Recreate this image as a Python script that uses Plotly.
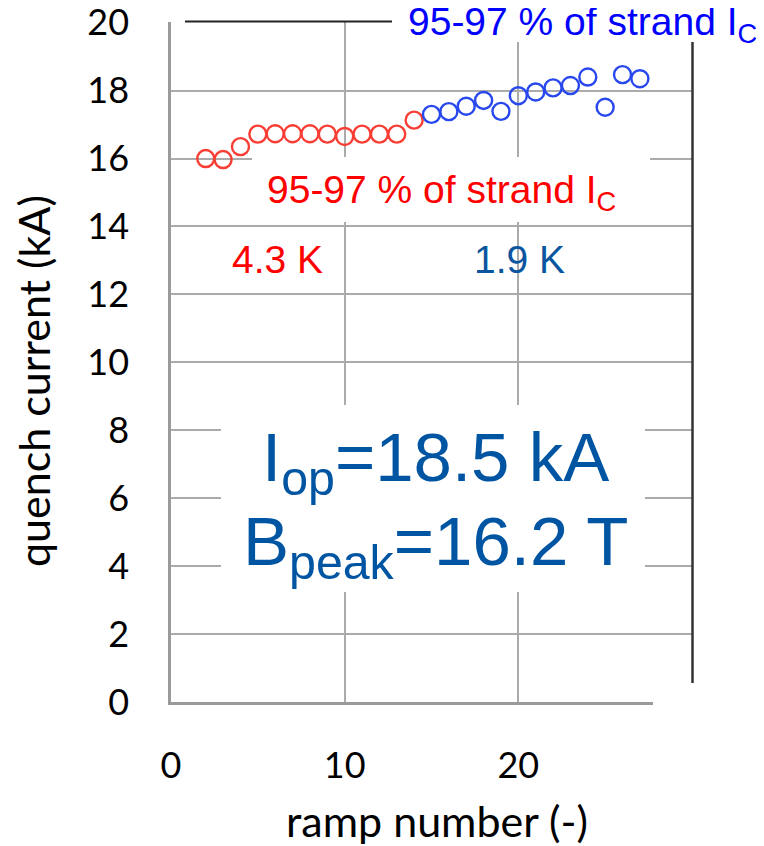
import plotly.graph_objects as go

# ---- data ----
ramp_43K = [2, 3, 4, 5, 6, 7, 8, 9, 10, 11, 12, 13, 14]
iq_43K = [16.0, 15.97, 16.35, 16.72, 16.73, 16.73, 16.73, 16.72, 16.65, 16.72, 16.72, 16.72, 17.13]
ramp_19K = [15, 16, 17, 18, 19, 20, 21, 22, 23, 24, 25, 26, 27]
iq_19K = [17.3, 17.38, 17.54, 17.71, 17.39, 17.85, 17.96, 18.08, 18.15, 18.4, 17.51, 18.47, 18.35]
x_ticks = [0, 10, 20]
y_ticks = [0, 2, 4, 6, 8, 10, 12, 14, 16, 18, 20]

# ---- layout geometry (screen pixels; page body adds an 8px offset) ----
W, H = 764, 846
OFF = 8
L, R, T, B = 171, 692, 22, 702


def px(xp):
    return (xp - L) / (R - L)


def py(yp):
    return (B - yp) / (B - T)


fig = go.Figure()
fig.add_trace(go.Scatter(
    x=ramp_43K, y=iq_43K, mode="markers", name="4.3 K",
    marker=dict(symbol="circle-open", size=17, color="rgb(248,62,52)",
                line=dict(width=2.4, color="rgb(248,62,52)")),
))
fig.add_trace(go.Scatter(
    x=ramp_19K, y=iq_19K, mode="markers", name="1.9 K",
    marker=dict(symbol="circle-open", size=17, color="rgb(40,72,238)",
                line=dict(width=2.4, color="rgb(40,72,238)")),
))

shapes = []
# white text boxes covering grid
for (x0, y0, x1, y1) in [(252, 157, 650, 222), (221, 405, 645, 592),
                         (395, -5, 770, 42), (653, 684, 710, 715)]:
    shapes.append(dict(type="rect", xref="paper", yref="paper",
                       x0=px(x0), x1=px(x1), y0=py(y1), y1=py(y0),
                       fillcolor="white", line=dict(width=0), layer="above"))
# black border pieces
shapes.append(dict(type="line", xref="paper", yref="paper",
                   x0=px(185), x1=px(392), y0=py(21.5), y1=py(21.5),
                   line=dict(color="#222222", width=2), layer="above"))
shapes.append(dict(type="line", xref="paper", yref="paper",
                   x0=px(692.5), x1=px(692.5), y0=py(42), y1=py(683),
                   line=dict(color="#333333", width=2.5), layer="above"))

arial = "Liberation Sans, Arial, sans-serif"
lato = "Lato, Carlito, sans-serif"
annotations = [
    dict(text="95-97 % of strand I<sub>C</sub>", xref="paper", yref="paper",
         x=px(406), y=py(25), xanchor="left", yanchor="middle", showarrow=False,
         font=dict(family=arial, size=39, color="#0000FF")),
    dict(text="95-97 % of strand I<sub>C</sub>", xref="paper", yref="paper",
         x=px(265), y=py(192), xanchor="left", yanchor="middle", showarrow=False,
         font=dict(family=arial, size=39, color="#FF0000")),
    dict(text="4.3 K", xref="paper", yref="paper",
         x=px(230), y=py(259), xanchor="left", yanchor="middle", showarrow=False,
         font=dict(family=arial, size=39, color="#FF0000")),
    dict(text="1.9 K", xref="paper", yref="paper",
         x=px(472), y=py(259), xanchor="left", yanchor="middle", showarrow=False,
         font=dict(family=arial, size=39, color="#0A55A0")),
    dict(text="I<sub>op</sub>=18.5 kA", xref="paper", yref="paper",
         x=px(435), y=py(462), xanchor="center", yanchor="middle", showarrow=False,
         font=dict(family=arial, size=69, color="#0055A2")),
    dict(text="B<sub>peak</sub>=16.2 T", xref="paper", yref="paper",
         x=px(435), y=py(546), xanchor="center", yanchor="middle", showarrow=False,
         font=dict(family=arial, size=69, color="#0055A2")),
    # axis titles
    dict(text="ramp number (-)", xref="paper", yref="paper",
         x=px(437), y=py(820), xanchor="center", yanchor="middle", showarrow=False,
         font=dict(family=lato, size=43, color="black")),
    dict(text="quench current (kA)", xref="paper", yref="paper", textangle=-90,
         x=px(33), y=py(381), xanchor="center", yanchor="middle", showarrow=False,
         font=dict(family=lato, size=43, color="black")),
]

axis_font = dict(family=lato, size=36, color="black")
fig.update_layout(
    width=W, height=H,
    margin=dict(l=L - OFF, r=W - (R - OFF), t=T - OFF, b=H - (B - OFF), pad=0),
    paper_bgcolor="white", plot_bgcolor="white",
    showlegend=False,
    shapes=shapes, annotations=annotations,
    xaxis=dict(range=[0, 30], tickvals=x_ticks, showgrid=True,
               gridcolor="#ABABAB", gridwidth=1.5,
               showline=True, linecolor="#9A9A9A", linewidth=2.5,
               ticks="", ticklabelstandoff=30, tickfont=axis_font,
               ticklabeloverflow="allow",
               automargin=False, zeroline=False),
    yaxis=dict(range=[0, 20.02], tickvals=y_ticks, showgrid=True,
               gridcolor="#ABABAB", gridwidth=1.5,
               showline=True, linecolor="#9A9A9A", linewidth=2.5,
               ticks="", ticklabelstandoff=32, tickfont=axis_font,
               ticklabeloverflow="allow",
               automargin=False, zeroline=False),
)

fig.write_html("out.html")
